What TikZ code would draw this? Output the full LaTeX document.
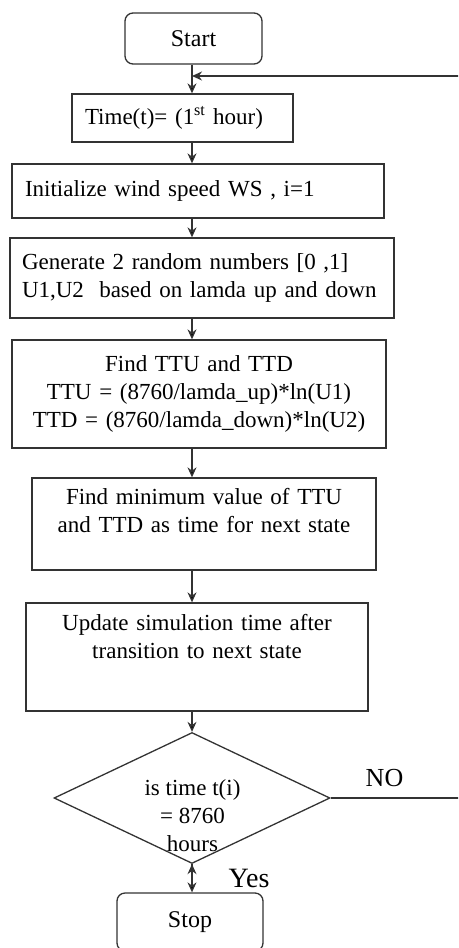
\documentclass[tikz,border=0pt]{standalone}
\usepackage{fontspec}
\setmainfont{Liberation Serif}
\usetikzlibrary{arrows.meta}
\usetikzlibrary{positioning}
\usetikzlibrary{shapes.geometric}

\begin{document}
\begin{tikzpicture}[->,>={Stealth[length=10pt,width=9pt]},x=1pt,y=-1pt,line width=1.3pt,
    every node/.style={font=\fontsize{23}{28}\selectfont},
    terminal node/.style={rectangle,rounded corners=8pt,draw=black!80,minimum width=137pt,
                          minimum height=51pt,inner sep=0pt,font=\fontsize{24}{28}\selectfont},
    left node/.style={rectangle,draw=black!80,align=left,inner xsep=13pt,inner ysep=0pt},
    centre node/.style={rectangle,draw=black!80,align=center,inner xsep=6pt,inner ysep=0pt},
    decision node/.style={diamond,draw=black!80,minimum width=276pt,minimum height=131pt,inner sep=0pt},
    answer node/.style={inner sep=0pt}]

  \useasboundingbox (0,0) rectangle (458,948);
  \clip (0,0) rectangle (458,948);

  \node[terminal node] (start) at (193.5,38.5) {Start};
  \node[left node,text width=195pt,minimum height=48pt] (time) at (182.5,118) {Time(t)= (1\textsuperscript{st} hour)};
  \node[left node,text width=346pt,minimum height=54pt] (init) at (198,191) {Initialize wind speed WS , i=1};
  \node[left node,text width=360pt,minimum height=80pt,inner xsep=12pt] (gen) at (202,278)
    {Generate 2 random numbers [0 ,1]\\ U1,U2~ based on lamda up and down};
  \node[centre node,text width=362pt,minimum height=108pt] (ttu) at (199,394)
    {Find TTU and TTD\\ TTU = (8760/lamda\_up)*ln(U1)\\ TTD = (8760/lamda\_down)*ln(U2)};
  \node[centre node,text width=332pt,minimum height=92pt] (minval) at (204,524)
    {Find minimum value of TTU\\ and TTD as time for next state\\[-10pt]\strut};
  \node[centre node,text width=330pt,minimum height=108pt] (upd) at (197,657)
    {Update simulation time after\\ transition to next state\\[4pt]\strut};
  \node[decision node] (dec) at (192,798) {};
  \node[align=center,inner sep=0pt] (dectext) at (192.5,816) {is time t(i)\\ = 8760\\ hours};
  \node[terminal node,minimum width=146pt,minimum height=58pt] (stop) at (190,922) {Stop};

  \coordinate (join) at (192,76);
  \coordinate (corner) at (462,798);

  \path[draw=black!80]
    (start.south -| dec) edge (time.north -| dec)
    (time.south -| dec) edge (init.north -| dec)
    (init.south -| dec) edge (gen.north -| dec)
    (gen.south -| dec) edge (ttu.north -| dec)
    (ttu.south -| dec) edge (minval.north -| dec)
    (minval.south -| dec) edge (upd.north -| dec)
    (upd.south -| dec) edge (dec.north)
    (dec.south) edge node[answer node,right=36pt,font=\fontsize{28}{30}\selectfont] {Yes} (stop.north -| dec);

  \draw[draw=black!80] (dec.east) -- node[answer node,pos=0.41,above=11pt,font=\fontsize{26}{30}\selectfont] {NO} (corner) |- (join);
\end{tikzpicture}
\end{document}
